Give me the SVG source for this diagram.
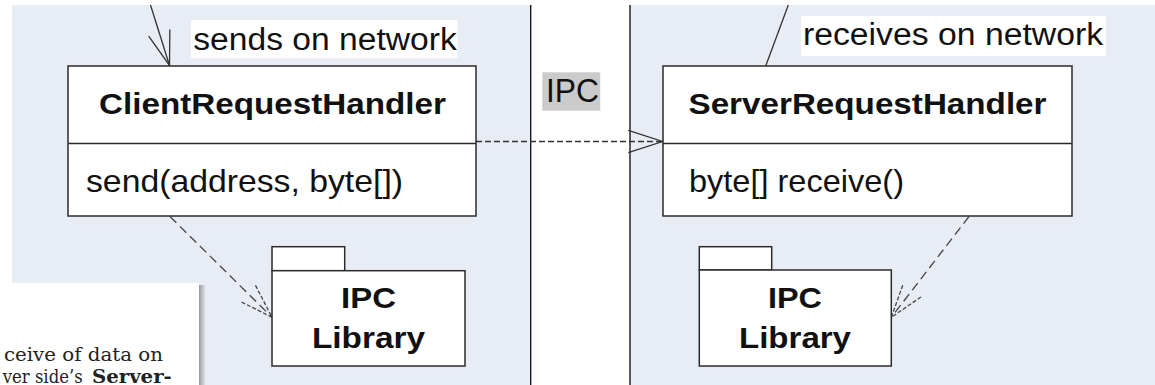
<svg xmlns="http://www.w3.org/2000/svg" width="1155" height="385" viewBox="0 0 1155 385">
  <style>
    .panel { fill: #e8ecf5; }
    .box { fill: #ffffff; stroke: #2a2a2a; stroke-width: 1.5; }
    .rule { stroke: #1a1a1a; stroke-width: 1.4; }
    .sans { font-family: "Liberation Sans", Arial, sans-serif; fill: #111; }
    .title { font-weight: bold; font-size: 29px; }
    .member { font-size: 32px; }
    .note { font-size: 31px; }
    .pkg { font-weight: bold; font-size: 30px; }
    .assoc { fill: none; stroke: #333; stroke-width: 1.3; }
    .dep { fill: none; stroke: #444; stroke-width: 1.3; stroke-dasharray: 9 5; }
    .ipc { fill: none; stroke: #333; stroke-width: 1.3; stroke-dasharray: 6 3; }
    .serif { font-family: "DejaVu Serif", "Liberation Serif", serif; font-size: 18.5px; fill: #222; }
  </style>
  <defs>
    <marker id="open" markerUnits="userSpaceOnUse" viewBox="-40 -15 44 30" refX="0" refY="0" markerWidth="44" markerHeight="30" orient="auto" overflow="visible">
      <path d="M-34.2,-11.1 L0,0 L-34.2,11.1" fill="none" stroke="#333" stroke-width="1.3"/>
    </marker>
    <marker id="openDashed" markerUnits="userSpaceOnUse" viewBox="-40 -15 44 30" refX="0" refY="0" markerWidth="44" markerHeight="30" orient="auto" overflow="visible">
      <path d="M-34.2,-11.1 L0,0 L-34.2,11.1" fill="none" stroke="#444" stroke-width="1.3" stroke-dasharray="4 2"/>
    </marker>
    <linearGradient id="shade" x1="0" y1="0" x2="1" y2="0">
      <stop offset="0" stop-color="#000" stop-opacity="0.35"/>
      <stop offset="1" stop-color="#000" stop-opacity="0"/>
    </linearGradient>
  </defs>

  <!-- page and the two side panels -->
  <rect x="0" y="0" width="1155" height="385" fill="#ffffff"/>
  <rect class="panel" x="12" y="5" width="518.7" height="380"/>
  <rect class="panel" x="630" y="5" width="525" height="380"/>
  <line class="rule" x1="530.7" y1="5" x2="530.7" y2="385"/>
  <line class="rule" x1="630" y1="5" x2="630" y2="385"/>

  <!-- IPC label between the panels -->
  <g id="ipc-label">
    <rect x="542.3" y="72.3" width="58" height="38.4" fill="#cbcbcb"/>
    <text class="sans" x="546" y="101.5" font-size="33" textLength="53" lengthAdjust="spacingAndGlyphs">IPC</text>
  </g>

  <!-- connectors -->
  <g id="connectors">
    <line class="assoc" x1="150.5" y1="5" x2="169.5" y2="65.5" marker-end="url(#open)"/>
    <line class="assoc" x1="788.3" y1="5" x2="765.7" y2="66"/>
    <line class="ipc" x1="476" y1="141.5" x2="662.5" y2="141.5" marker-end="url(#open)"/>
    <line class="dep" x1="170" y1="216.5" x2="272" y2="317.3" marker-end="url(#openDashed)"/>
    <line class="dep" x1="969" y1="216.5" x2="891.3" y2="317.3" marker-end="url(#openDashed)"/>
  </g>

  <!-- connector labels -->
  <g id="label-sends">
    <rect x="191" y="20" width="266.5" height="38.3" fill="#ffffff"/>
    <text class="sans note" x="193.3" y="49.5" textLength="263.4" lengthAdjust="spacingAndGlyphs">sends on network</text>
  </g>
  <g id="label-receives">
    <rect x="801" y="16" width="304.7" height="40" fill="#ffffff"/>
    <text class="sans note" x="803" y="45" textLength="300" lengthAdjust="spacingAndGlyphs">receives on network</text>
  </g>

  <!-- client side -->
  <g id="client-request-handler">
    <rect class="box" x="68" y="66" width="408" height="150"/>
    <line class="box" x1="68" y1="143.5" x2="476" y2="143.5"/>
    <text class="sans title" x="272.5" y="114" text-anchor="middle" textLength="347" lengthAdjust="spacingAndGlyphs">ClientRequestHandler</text>
    <text class="sans member" x="86" y="192" textLength="317" lengthAdjust="spacingAndGlyphs">send(address, byte[])</text>
  </g>
  <g id="client-ipc-library">
    <rect class="box" x="272" y="246.7" width="72.7" height="24"/>
    <rect class="box" x="272" y="270.7" width="193" height="95.3"/>
    <text class="sans pkg" x="368.5" y="308" text-anchor="middle" textLength="55" lengthAdjust="spacingAndGlyphs">IPC</text>
    <text class="sans pkg" x="368.5" y="348" text-anchor="middle" textLength="113" lengthAdjust="spacingAndGlyphs">Library</text>
  </g>

  <!-- server side -->
  <g id="server-request-handler">
    <rect class="box" x="663" y="66" width="409" height="150"/>
    <line class="box" x1="663" y1="143.5" x2="1072" y2="143.5"/>
    <text class="sans title" x="867.5" y="114" text-anchor="middle" textLength="358" lengthAdjust="spacingAndGlyphs">ServerRequestHandler</text>
    <text class="sans member" x="689" y="192" textLength="215" lengthAdjust="spacingAndGlyphs">byte[] receive()</text>
  </g>
  <g id="server-ipc-library">
    <rect class="box" x="699.3" y="246.7" width="72.4" height="23.3"/>
    <rect class="box" x="699.3" y="270" width="192" height="96"/>
    <text class="sans pkg" x="795" y="308" text-anchor="middle" textLength="54" lengthAdjust="spacingAndGlyphs">IPC</text>
    <text class="sans pkg" x="795" y="348" text-anchor="middle" textLength="112" lengthAdjust="spacingAndGlyphs">Library</text>
  </g>

  <!-- overlapping caption sheet in the lower left -->
  <g id="caption-sheet">
    <rect x="199" y="285" width="7" height="100" fill="url(#shade)"/>
    <rect x="0" y="283" width="199" height="102" fill="#ffffff"/>
    <text class="serif" x="4" y="360.5" textLength="159" lengthAdjust="spacingAndGlyphs">ceive of data on</text>
    <text class="serif" y="383"><tspan x="2.7" textLength="80" lengthAdjust="spacingAndGlyphs">ver side’s</tspan><tspan x="92" font-weight="bold" textLength="79.7" lengthAdjust="spacingAndGlyphs">Server-</tspan></text>
  </g>
</svg>
